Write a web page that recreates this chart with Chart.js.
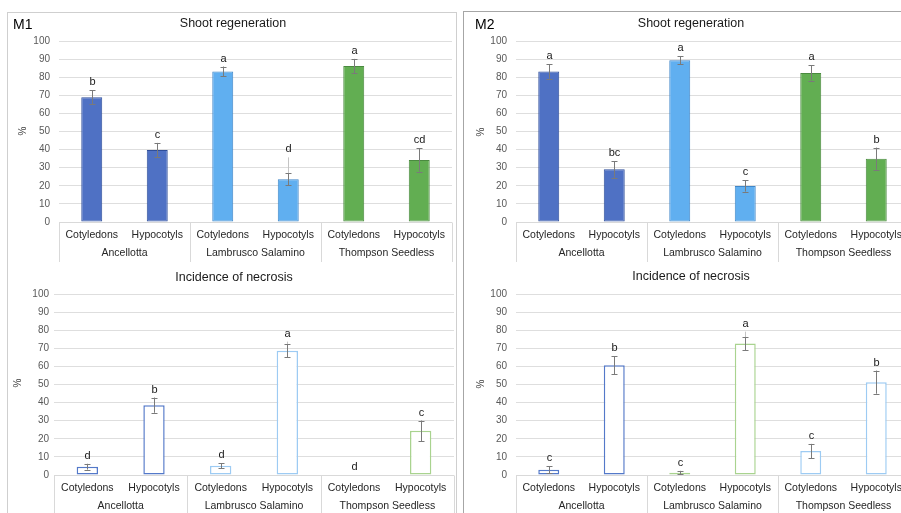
<!DOCTYPE html>
<html>
<head>
<meta charset="utf-8">
<script src="https://cdn.jsdelivr.net/npm/chart.js@4.4.1/dist/chart.umd.min.js"></script>
<style>
    html, body { margin: 0; padding: 0; background: #fff; }
    body { width: 901px; height: 513px; overflow: hidden; position: relative; font-family: "Liberation Sans", Arial, sans-serif; }
    .panel { position: absolute; border: 1px solid #cfcfcf; box-sizing: border-box; }
    #p1 { left: 7px; top: 12px; width: 450px; height: 520px; }
    #p2 { left: 463px; top: 11px; width: 470px; height: 520px; border-color: #a6a6a6; }
    .tag { position: absolute; font-size: 14px; color: #000; line-height: 16px; }
    canvas { position: absolute; }
</style>
</head>
<body>
<div class="panel" id="p1"></div>
<div class="panel" id="p2"></div>
<canvas id="m1shoot" width="449" height="250" style="left:7px;top:12px"></canvas>
<canvas id="m1nec" width="449" height="251" style="left:7px;top:262px"></canvas>
<canvas id="m2shoot" width="449" height="250" style="left:464px;top:12px"></canvas>
<canvas id="m2nec" width="449" height="251" style="left:464px;top:262px"></canvas>
<div class="tag" style="left:13px;top:16px">M1</div>
<div class="tag" style="left:475px;top:16px">M2</div>
<script>
const groups = ['Ancellotta', 'Lambrusco Salamino', 'Thompson Seedless'];
const tissues = ['Cotyledons', 'Hypocotyls'];
const yMax = 100;
const yStep = 10;

// M1 - shoot regeneration (%)
const m1ShootMean = [68.9, 39.8, 83.2, 23.6, 86.2, 34.3];
const m1ShootErr = [3.9, 3.9, 2.7, 3.3, 3.9, 6.4];
const m1ShootWhisker = [null, null, null, 35.7, null, null];
const m1ShootLetters = ['b', 'c', 'a', 'd', 'a', 'cd'];

// M2 - shoot regeneration (%)
const m2ShootMean = [83.2, 29.1, 89.3, 19.9, 82.3, 35.0];
const m2ShootErr = [4.0, 4.6, 2.2, 3.1, 4.2, 6.1];
const m2ShootWhisker = [null, null, null, null, null, null];
const m2ShootLetters = ['a', 'bc', 'a', 'c', 'a', 'b'];

// M1 - incidence of necrosis (%)
const m1NecMean = [4.6, 38.6, 5.1, 68.6, 0, 24.4];
const m1NecErr = [1.6, 4.2, 1.5, 3.6, 0, 5.7];
const m1NecWhisker = [null, null, null, 73.7, null, null];
const m1NecLetters = ['d', 'b', 'd', 'a', 'd', 'c'];

// M2 - incidence of necrosis (%)
const m2NecMean = [2.9, 60.7, 1.3, 72.6, 13.2, 51.3];
const m2NecErr = [2.0, 5.0, 1.0, 3.7, 4.0, 6.4];
const m2NecWhisker = [null, null, null, 79.2, null, null];
const m2NecLetters = ['c', 'b', 'c', 'a', 'c', 'b'];

const FONT = '"Liberation Sans", Arial, sans-serif';
Chart.defaults.font.family = FONT;

const BLUE = '#4f71c4', BLUE_DK = '#2f4e9a';
const LBLUE = '#60aff0', LBLUE_DK = '#3f86c8';
const GREEN = '#62ae52', GREEN_DK = '#4a8a3f';
const shootFill = [BLUE, BLUE, LBLUE, LBLUE, GREEN, GREEN];
const shootEdge = [BLUE_DK, BLUE_DK, LBLUE_DK, LBLUE_DK, GREEN_DK, GREEN_DK];
const NB = '#5479c9', NLB = '#9dcbf3', NG = '#a9d38f';
const m1NecEdge = [NB, NB, NLB, NLB, NG, NG];
const m2NecEdge = [NB, NB, NG, NG, NLB, NLB];

const labels = [];
groups.forEach(g => tissues.forEach(t => labels.push(t)));

function makeDecor(info) {
    return {
        id: 'decor',
        afterDraw(chart) {
            const ctx = chart.ctx;
            const a = chart.chartArea;
            const xs = chart.scales.x;
            const ys = chart.scales.y;
            const g = info.geom;
            ctx.save();

            // error bars
            info.mean.forEach((m, i) => {
                const px = Math.round(xs.getPixelForValue(i)) + 0.5;
                const e = info.err[i];
                if (info.whisker[i] != null) {
                    ctx.strokeStyle = '#c4c4c4';
                    ctx.lineWidth = 1;
                    ctx.beginPath();
                    ctx.moveTo(px, ys.getPixelForValue(m + e));
                    ctx.lineTo(px, ys.getPixelForValue(info.whisker[i]));
                    ctx.stroke();
                }
                if (e > 0) {
                    const yt = ys.getPixelForValue(m + e);
                    const yb = ys.getPixelForValue(Math.max(m - e, 0));
                    ctx.strokeStyle = '#7a7a7a';
                    ctx.lineWidth = 1;
                    ctx.beginPath();
                    ctx.moveTo(px, yt); ctx.lineTo(px, yb);
                    ctx.moveTo(px - 3, Math.round(yt) + 0.5); ctx.lineTo(px + 3, Math.round(yt) + 0.5);
                    ctx.moveTo(px - 3, Math.round(yb) + 0.5); ctx.lineTo(px + 3, Math.round(yb) + 0.5);
                    ctx.stroke();
                }
                // significance letter
                const top = info.whisker[i] != null ? info.whisker[i] : m + e;
                ctx.fillStyle = '#1a1a1a';
                ctx.font = '11px ' + FONT;
                ctx.textAlign = 'center';
                ctx.textBaseline = 'middle';
                ctx.fillText(info.letters[i], px, ys.getPixelForValue(top) - 8);
            });

            // x axis line, group separators and two-level labels
            const bottom = Math.round(a.bottom) + 0.5;
            ctx.strokeStyle = '#d9d9d9';
            ctx.lineWidth = 1;
            ctx.beginPath();
            ctx.moveTo(a.left, bottom); ctx.lineTo(a.right, bottom);
            const gw = (a.right - a.left) / groups.length;
            for (let k = 0; k <= groups.length; k++) {
                const sx = Math.round(a.left + k * gw) + 0.5;
                ctx.moveTo(sx, bottom); ctx.lineTo(sx, bottom + 40);
            }
            ctx.stroke();

            ctx.fillStyle = '#262626';
            ctx.font = '10.5px ' + FONT;
            ctx.textAlign = 'center';
            ctx.textBaseline = 'middle';
            labels.forEach((l, i) => ctx.fillText(l, xs.getPixelForValue(i), a.bottom + 13));
            groups.forEach((l, k) => ctx.fillText(l, a.left + (k + 0.5) * gw, a.bottom + 31));

            // title and axis name
            ctx.font = '12.5px ' + FONT;
            ctx.fillStyle = '#1a1a1a';
            ctx.fillText(info.title, g.titleX - g.left, g.titleY - g.top);
            ctx.save();
            ctx.translate(g.pctX - g.left, g.pctY - g.top);
            ctx.rotate(-Math.PI / 2);
            ctx.font = '10px ' + FONT;
            ctx.fillStyle = '#404040';
            ctx.fillText('%', 0, 0);
            ctx.restore();

            ctx.restore();
        }
    };
}

function buildChart(id, info) {
    const g = info.geom;
    const yWidth = g.plotL - g.left;
    const xHeight = g.top + g.height - g.plotB;
    new Chart(document.getElementById(id), {
        type: 'bar',
        data: {
            labels: labels,
            datasets: [{
                data: info.mean,
                backgroundColor: info.fill,
                borderColor: info.edge,
                borderWidth: c => (c.raw === 0 ? 0 : info.borderWidth),
                borderSkipped: false,
                barPercentage: 0.32,
                categoryPercentage: 1
            }]
        },
        options: {
            responsive: false,
            animation: false,
            devicePixelRatio: 1,
            layout: {
                padding: { top: g.plotT - g.top, right: g.left + g.width - g.plotR, left: 0, bottom: 0 }
            },
            plugins: {
                legend: { display: false },
                title: { display: false },
                tooltip: { enabled: false }
            },
            scales: {
                x: {
                    type: 'category',
                    offset: true,
                    grid: { display: false },
                    border: { display: false },
                    ticks: { display: false },
                    afterFit: s => { s.height = xHeight; }
                },
                y: {
                    min: 0,
                    max: yMax,
                    ticks: { stepSize: yStep, padding: g.tickPad, color: '#595959', font: { size: 10 } },
                    grid: { color: '#dedede', drawTicks: false },
                    border: { display: false },
                    afterFit: s => { s.width = yWidth; }
                }
            }
        },
        plugins: [makeDecor(info)]
    });
}

buildChart('m1shoot', {
    title: 'Shoot regeneration',
    mean: m1ShootMean, err: m1ShootErr, whisker: m1ShootWhisker, letters: m1ShootLetters,
    fill: shootFill, edge: shootEdge, borderWidth: 1,
    geom: { left: 7, top: 12, width: 449, height: 250, plotL: 59, plotR: 452, plotT: 41, plotB: 222, tickPad: 9, titleX: 233, titleY: 24, pctX: 23, pctY: 131 }
});

buildChart('m1nec', {
    title: 'Incidence of necrosis',
    mean: m1NecMean, err: m1NecErr, whisker: m1NecWhisker, letters: m1NecLetters,
    fill: '#ffffff', edge: m1NecEdge, borderWidth: 1.5,
    geom: { left: 7, top: 262, width: 449, height: 251, plotL: 54, plotR: 454, plotT: 294, plotB: 475, tickPad: 5, titleX: 234, titleY: 278, pctX: 18, pctY: 383 }
});

buildChart('m2shoot', {
    title: 'Shoot regeneration',
    mean: m2ShootMean, err: m2ShootErr, whisker: m2ShootWhisker, letters: m2ShootLetters,
    fill: shootFill, edge: shootEdge, borderWidth: 1,
    geom: { left: 464, top: 12, width: 449, height: 250, plotL: 516, plotR: 909, plotT: 41, plotB: 222, tickPad: 9, titleX: 691, titleY: 24, pctX: 481, pctY: 132 }
});

buildChart('m2nec', {
    title: 'Incidence of necrosis',
    mean: m2NecMean, err: m2NecErr, whisker: m2NecWhisker, letters: m2NecLetters,
    fill: '#ffffff', edge: m2NecEdge, borderWidth: 1.5,
    geom: { left: 464, top: 262, width: 449, height: 251, plotL: 516, plotR: 909, plotT: 294, plotB: 475, tickPad: 9, titleX: 691, titleY: 277, pctX: 481, pctY: 384 }
});
</script>
</body>
</html>
